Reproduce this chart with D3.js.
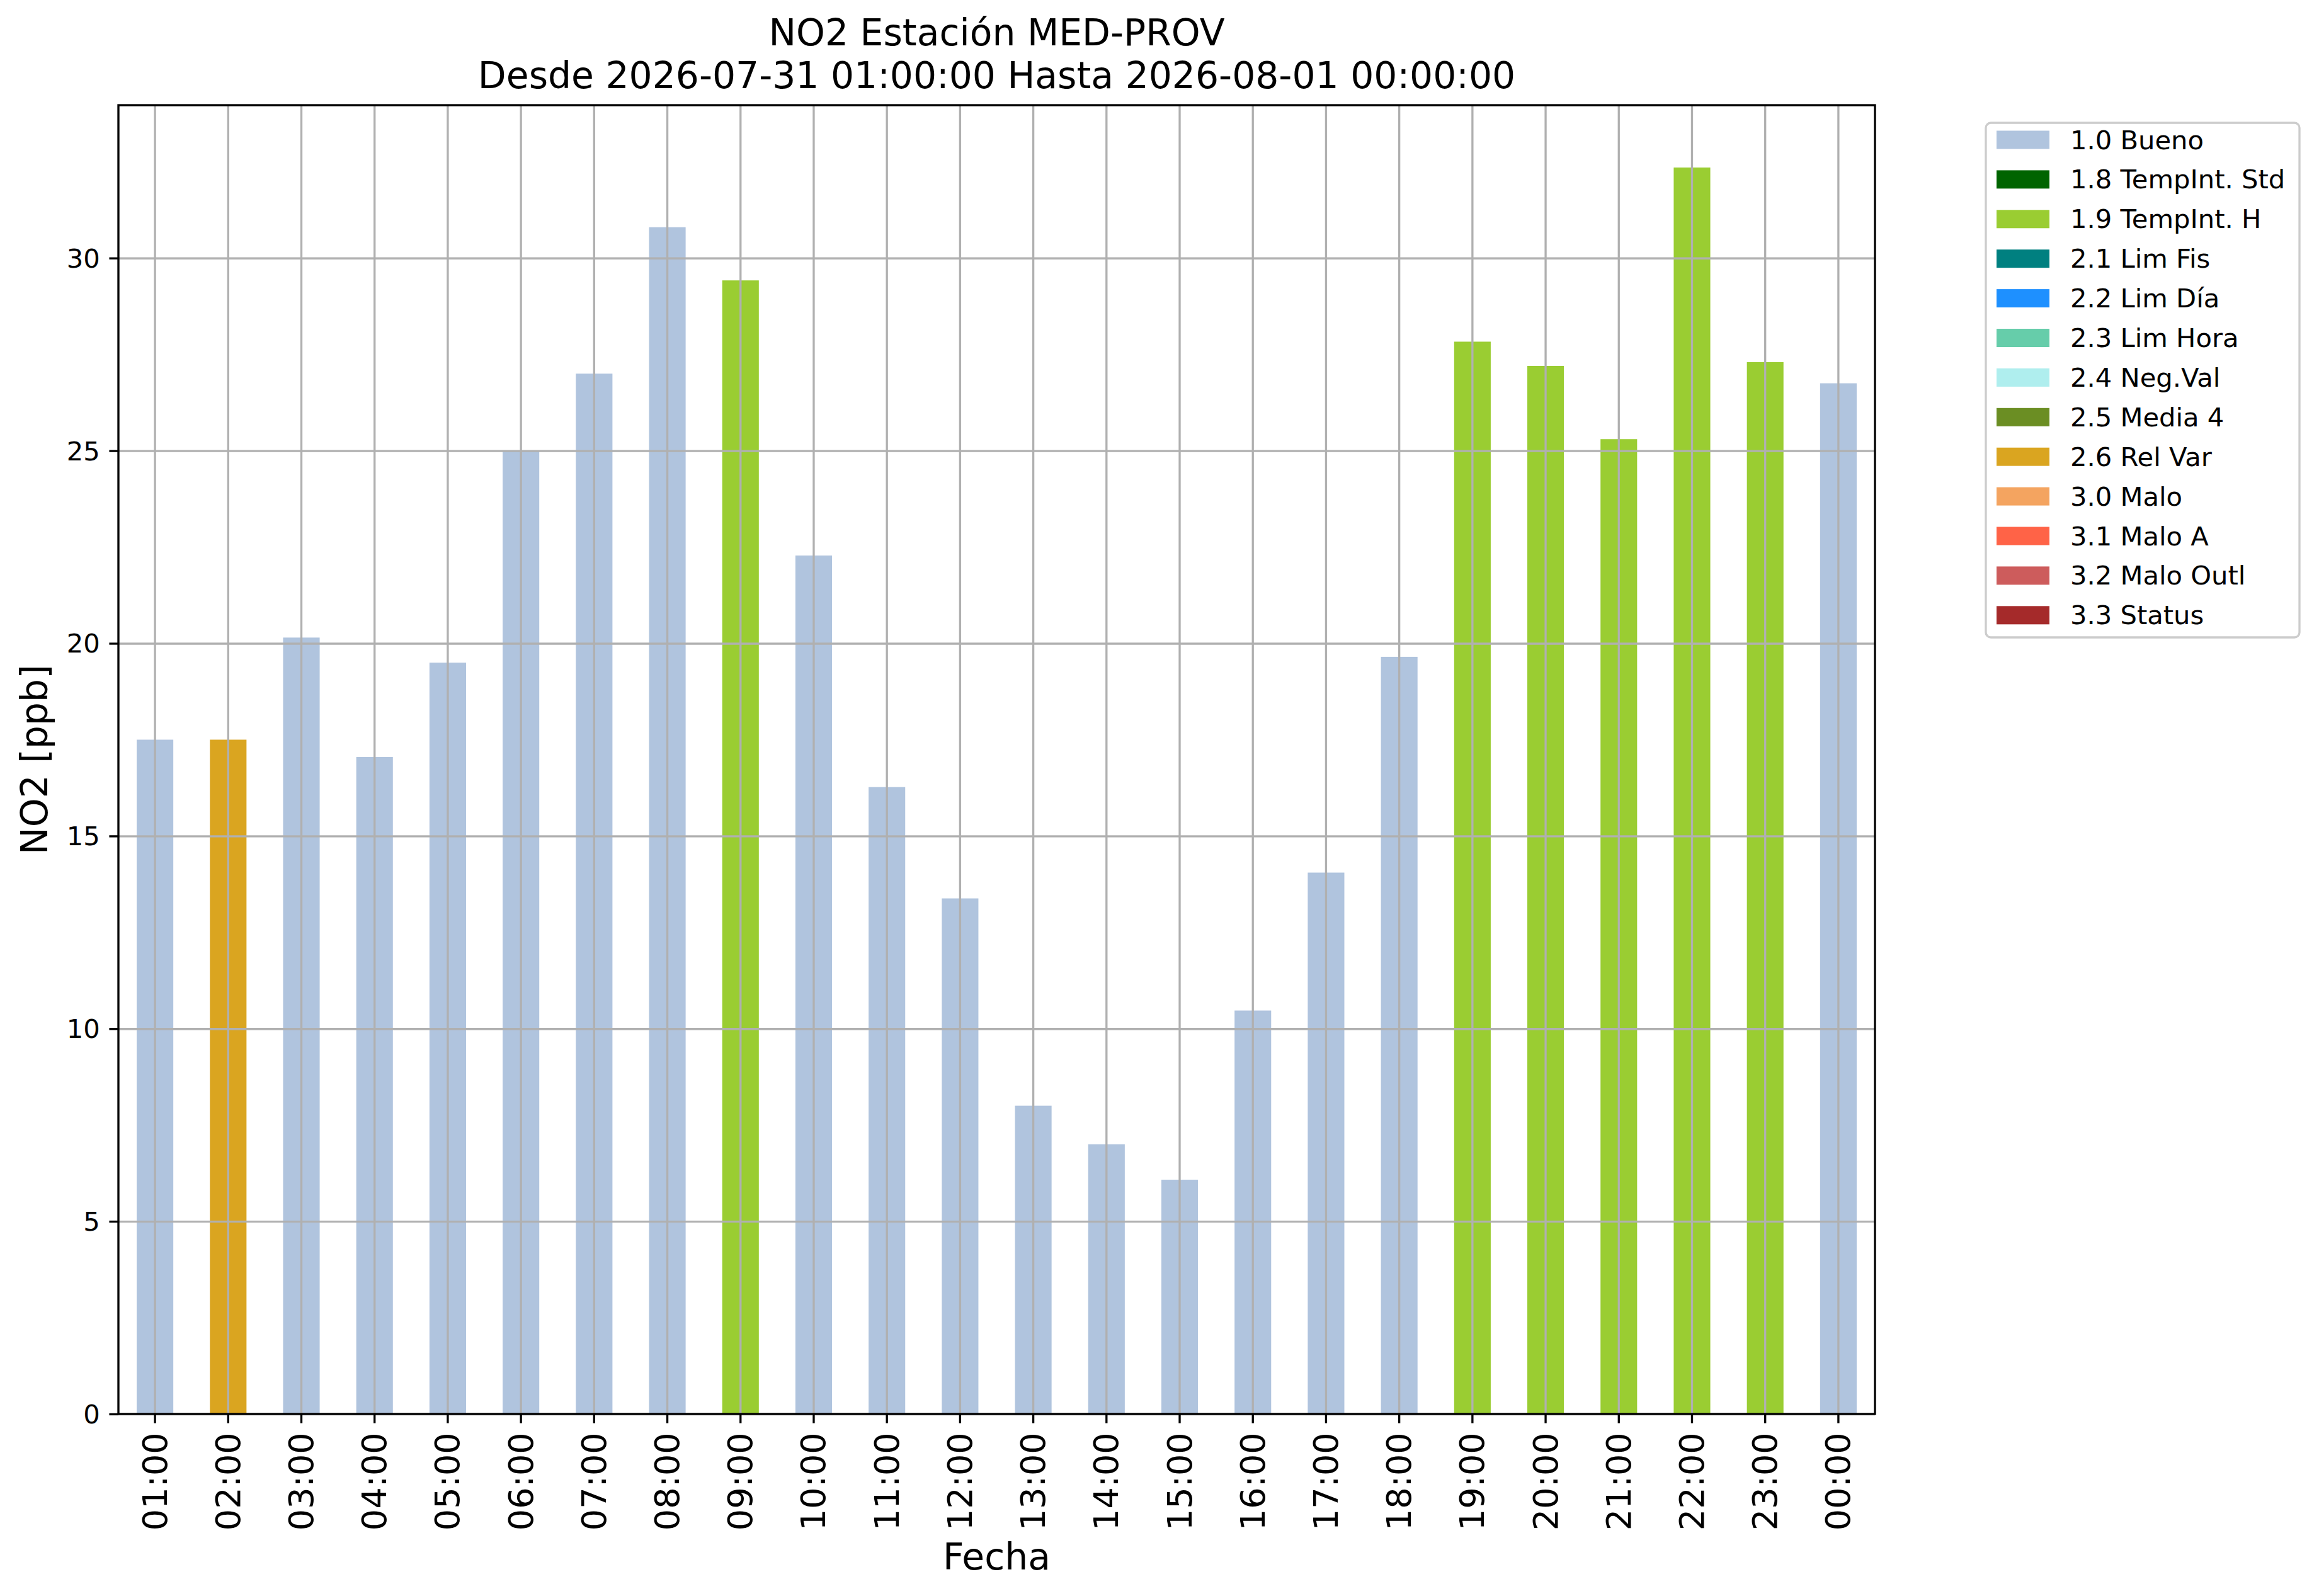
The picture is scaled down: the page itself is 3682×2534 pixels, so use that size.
<!DOCTYPE html>
<html lang="es">
<head>
<meta charset="UTF-8">
<title>NO2 Estación MED-PROV</title>
<script src="https://d3js.org/d3.v7.min.js"></script>
<style>
  body { margin: 0; background: #fff; }
  text { font-family: "DejaVu Sans", sans-serif; }
</style>
</head>
<body>
<script>
// datos
var hours = ["01:00","02:00","03:00","04:00","05:00","06:00","07:00","08:00","09:00","10:00","11:00","12:00",
             "13:00","14:00","15:00","16:00","17:00","18:00","19:00","20:00","21:00","22:00","23:00","00:00"];
var values = [17.5, 17.5, 20.15, 17.05, 19.5, 25.0, 27.0, 30.8, 29.42, 22.28, 16.27, 13.38,
              8.0, 7.0, 6.08, 10.47, 14.05, 19.65, 27.83, 27.2, 25.3, 32.35, 27.3, 26.75];
var flags = ["1.0 Bueno","2.6 Rel Var","1.0 Bueno","1.0 Bueno","1.0 Bueno","1.0 Bueno","1.0 Bueno","1.0 Bueno",
             "1.9 TempInt. H","1.0 Bueno","1.0 Bueno","1.0 Bueno","1.0 Bueno","1.0 Bueno","1.0 Bueno","1.0 Bueno",
             "1.0 Bueno","1.0 Bueno","1.9 TempInt. H","1.9 TempInt. H","1.9 TempInt. H","1.9 TempInt. H",
             "1.9 TempInt. H","1.0 Bueno"];
var categories = ["1.0 Bueno","1.8 TempInt. Std","1.9 TempInt. H","2.1 Lim Fis","2.2 Lim Día","2.3 Lim Hora",
                  "2.4 Neg.Val","2.5 Media 4","2.6 Rel Var","3.0 Malo","3.1 Malo A","3.2 Malo Outl","3.3 Status"];
var catColors = ["lightsteelblue","darkgreen","yellowgreen","teal","dodgerblue","mediumaquamarine",
                 "paleturquoise","olivedrab","goldenrod","sandybrown","tomato","indianred","brown"];
var yTicks = [0, 5, 10, 15, 20, 25, 30];

var width = 3682, height = 2534;
var axLeft = 188, axRight = 2977, axTop = 167, axBottom = 2245;
var pt = 300 / 72;

var svg = d3.select("body").append("svg")
    .attr("width", width).attr("height", height);

var color = d3.scaleOrdinal().domain(categories).range(catColors);

var data = hours.map(function(h, i) { return { hour: h, value: values[i], flag: flags[i] }; });

var xScale = d3.scaleBand()
    .domain(hours)
    .range([axLeft, axRight])
    .paddingInner(0.5)
    .paddingOuter(0.25);

var yScale = d3.scaleLinear()
    .domain([0, d3.max(values) * 1.05])
    .range([axBottom, axTop]);

// barras
svg.append("g")
    .selectAll("rect")
    .data(data)
    .enter()
    .append("rect")
    .attr("x", function(d) { return xScale(d.hour); })
    .attr("y", function(d) { return yScale(d.value); })
    .attr("width", xScale.bandwidth())
    .attr("height", function(d) { return axBottom - yScale(d.value); })
    .attr("fill", function(d) { return color(d.flag); });

// rejilla
svg.append("g")
    .attr("transform", "translate(0," + axTop + ")")
    .call(d3.axisBottom(xScale).tickSize(axBottom - axTop).tickFormat(""))
    .call(function(g) {
        g.select(".domain").remove();
        g.selectAll(".tick line").attr("stroke", "#b0b0b0").attr("stroke-width", 0.8 * pt);
    });

svg.append("g")
    .attr("transform", "translate(" + axLeft + ",0)")
    .call(d3.axisRight(yScale).tickValues(yTicks).tickSize(axRight - axLeft).tickFormat(""))
    .call(function(g) {
        g.select(".domain").remove();
        g.selectAll(".tick line").attr("stroke", "#b0b0b0").attr("stroke-width", 0.8 * pt);
    });

// ejes
var xAxis = svg.append("g")
    .attr("transform", "translate(0," + axBottom + ")")
    .call(d3.axisBottom(xScale).tickSize(3.5 * pt).tickPadding(3.5 * pt));
xAxis.select(".domain").remove();
xAxis.selectAll(".tick line").attr("stroke", "#000").attr("stroke-width", 0.8 * pt);
xAxis.selectAll(".tick text")
    .attr("font-size", 13 * pt)
    .attr("fill", "#000")
    .attr("text-anchor", "end")
    .attr("dy", null)
    .attr("y", 0)
    .attr("dominant-baseline", "central")
    .attr("transform", "translate(0," + (7 * pt) + ") rotate(-90)");

var yAxis = svg.append("g")
    .attr("transform", "translate(" + axLeft + ",0)")
    .call(d3.axisLeft(yScale).tickValues(yTicks).tickSize(3.5 * pt).tickPadding(3.5 * pt));
yAxis.select(".domain").remove();
yAxis.selectAll(".tick line").attr("stroke", "#000").attr("stroke-width", 0.8 * pt);
yAxis.selectAll(".tick text")
    .attr("font-size", 10 * pt)
    .attr("fill", "#000")
    .attr("dy", null)
    .attr("dominant-baseline", "central");

svg.append("rect")
    .attr("x", axLeft).attr("y", axTop)
    .attr("width", axRight - axLeft).attr("height", axBottom - axTop)
    .attr("fill", "none")
    .attr("stroke", "#000")
    .attr("stroke-width", 0.8 * pt);

// titulos
var cx = (axLeft + axRight) / 2;
svg.append("text")
    .attr("x", cx).attr("y", 52)
    .attr("text-anchor", "middle").attr("dominant-baseline", "central")
    .attr("font-size", 14 * pt)
    .text("NO2 Estación MED-PROV");
svg.append("text")
    .attr("x", cx).attr("y", 120)
    .attr("text-anchor", "middle").attr("dominant-baseline", "central")
    .attr("font-size", 14 * pt)
    .text("Desde 2026-07-31 01:00:00 Hasta 2026-08-01 00:00:00");

svg.append("text")
    .attr("x", cx).attr("y", 2472)
    .attr("text-anchor", "middle").attr("dominant-baseline", "central")
    .attr("font-size", 14 * pt)
    .text("Fecha");

svg.append("text")
    .attr("transform", "translate(55," + ((axTop + axBottom) / 2) + ") rotate(-90)")
    .attr("text-anchor", "middle").attr("dominant-baseline", "central")
    .attr("font-size", 14 * pt)
    .text("NO2 [ppb]");

// leyenda
var legend = svg.append("g").attr("transform", "translate(3153,195)");
legend.append("rect")
    .attr("x", 0).attr("y", 0)
    .attr("width", 498).attr("height", 817)
    .attr("rx", 8).attr("ry", 8)
    .attr("fill", "#fff")
    .attr("fill-opacity", 0.8)
    .attr("stroke", "#cccccc")
    .attr("stroke-width", 0.8 * pt);

var rows = legend.selectAll(".row")
    .data(categories)
    .enter()
    .append("g")
    .attr("class", "row")
    .attr("transform", function(d, i) { return "translate(0," + (27 + i * 62.9) + ")"; });

rows.append("rect")
    .attr("x", 17).attr("y", -14.5)
    .attr("width", 84).attr("height", 29)
    .attr("fill", function(d) { return color(d); });

rows.append("text")
    .attr("x", 134).attr("y", 0)
    .attr("dominant-baseline", "central")
    .attr("font-size", 10 * pt)
    .text(function(d) { return d; });
</script>
</body>
</html>
